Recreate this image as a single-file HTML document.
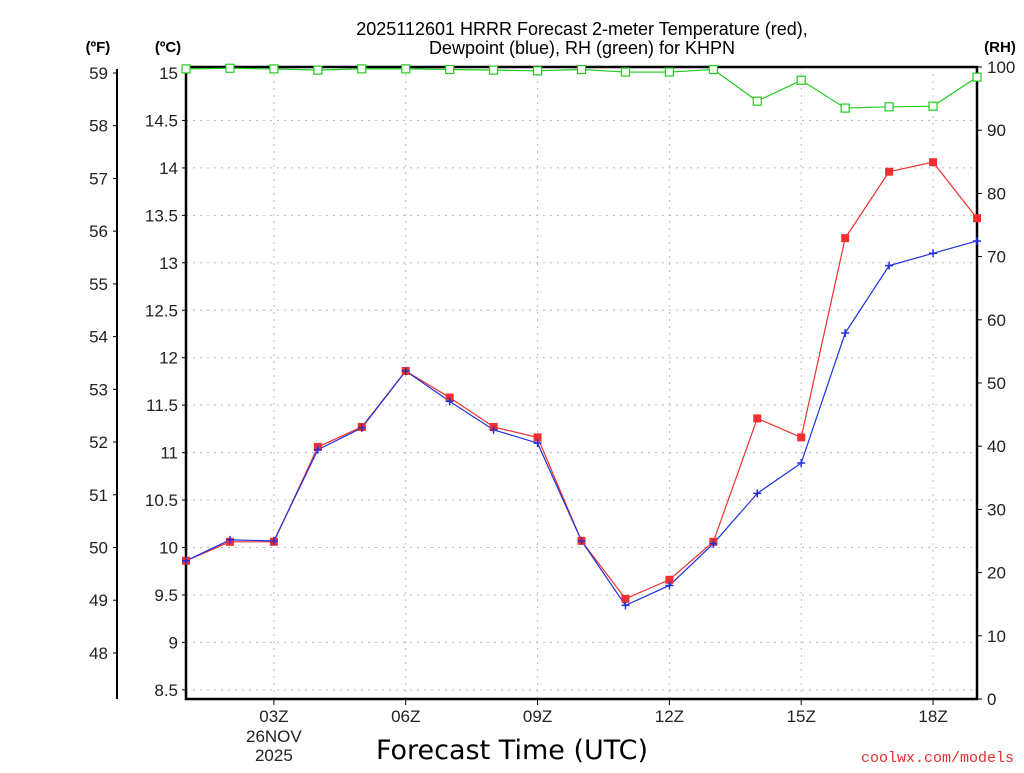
<!DOCTYPE html>
<html><head><meta charset="utf-8"><style>
body{margin:0;background:#fff;width:1024px;height:768px;overflow:hidden}
svg text{font-family:"Liberation Sans","DejaVu Sans",sans-serif}
</style></head><body>
<svg id="chart" width="1024" height="768" viewBox="0 0 1024 768" xmlns="http://www.w3.org/2000/svg">
<text x="582" y="35" font-size="18" text-anchor="middle" fill="#000">2025112601 HRRR Forecast 2-meter Temperature (red),</text>
<text x="582" y="54" font-size="18" text-anchor="middle" fill="#000">Dewpoint (blue), RH (green) for KHPN</text>
<text x="98" y="52" font-size="15" font-weight="bold" text-anchor="middle">(ºF)</text>
<text x="168" y="52" font-size="15" font-weight="bold" text-anchor="middle">(ºC)</text>
<text x="1000" y="52" font-size="15" font-weight="bold" text-anchor="middle">(RH)</text>
<text x="512" y="759" font-size="27" text-anchor="middle" fill="#000" style="font-family:'DejaVu Sans',sans-serif">Forecast Time (UTC)</text>
<text x="1014" y="762" font-size="15" text-anchor="end" fill="#e83030" style="font-family:'Liberation Mono',monospace">coolwx.com/models</text>
<g id="grid"></g><g id="axes"></g><g id="series"></g>
</svg>
<script>
const hours=[1,2,3,4,5,6,7,8,9,10,11,12,13,14,15,16,17,18,19];
const tempC=[9.86,10.06,10.06,11.06,11.27,11.86,11.58,11.27,11.16,10.07,9.46,9.66,10.06,11.36,11.16,13.26,13.96,14.06,13.47];
const dewC=[9.86,10.08,10.07,11.03,11.26,11.86,11.54,11.24,11.10,10.07,9.39,9.60,10.04,10.57,10.89,12.26,12.97,13.10,13.23];
const rh=[99.7,99.8,99.7,99.5,99.7,99.7,99.6,99.5,99.4,99.6,99.2,99.2,99.6,94.6,97.9,93.5,93.7,93.8,98.4];
const cTicks=[15,14.5,14,13.5,13,12.5,12,11.5,11,10.5,10,9.5,9,8.5];
const fTicks=[59,58,57,56,55,54,53,52,51,50,49,48];
const rhTicks=[0,10,20,30,40,50,60,70,80,90,100];
const xTickHours=[3,6,9,12,15,18];
const xTickLabels=["03Z","06Z","09Z","12Z","15Z","18Z"];
const L=186,R=977,T=67,B=699;
const x=h=>L+(h-1)*(R-L)/18;
const yC=c=>73+(15-c)*94.9;
const yF=f=>yC((f-32)*5/9);
const yRH=v=>B-v*(B-T)/100;
const NS="http://www.w3.org/2000/svg";
function mk(tag,attrs,parent,txt){const e=document.createElementNS(NS,tag);for(const k in attrs)e.setAttribute(k,attrs[k]);if(txt!==undefined)e.textContent=txt;document.getElementById(parent).appendChild(e);return e;}
cTicks.forEach(c=>{const y=yC(c);
 if(c<15){const g=mk('line',{x1:L,x2:R,y1:y,y2:y,stroke:'#bbb','stroke-dasharray':'2,5'},'grid');
 
 }
 mk('line',{x1:L-4,x2:L,y1:y,y2:y,stroke:'#000'},'axes');
 const t=mk('text',{x:L-8,y:y+6,'font-size':17,'text-anchor':'end',fill:'#222'},'axes',String(c));
 
 });
fTicks.forEach(f=>{const y=yF(f);
 mk('line',{x1:113,x2:117,y1:y,y2:y,stroke:'#000'},'axes');
 const t=mk('text',{x:108,y:y+6,'font-size':17,'text-anchor':'end',fill:'#222'},'axes',String(f));
 
 });
rhTicks.forEach(v=>{const y=yRH(v);
 mk('line',{x1:R,x2:R+5,y1:y,y2:y,stroke:'#000'},'axes');
 const t=mk('text',{x:R+10,y:y+6,'font-size':17,fill:'#222'},'axes',String(v));
 
 });
xTickHours.forEach((h,i)=>{const xx=x(h);
 const g=mk('line',{x1:xx,x2:xx,y1:T,y2:B,stroke:'#bbb','stroke-dasharray':'2,5'},'grid');
 
 
 mk('line',{x1:xx,x2:xx,y1:B,y2:B+6,stroke:'#000'},'axes');
 const t=mk('text',{x:xx,y:722,'font-size':17,'text-anchor':'middle',fill:'#222'},'axes',xTickLabels[i]);
 
 });
const d1=mk('text',{x:x(3),y:742,'font-size':17,'text-anchor':'middle',fill:'#222'},'axes','26NOV');


const d2=mk('text',{x:x(3),y:761,'font-size':17,'text-anchor':'middle',fill:'#222'},'axes','2025');


const fa=mk('line',{x1:117,x2:117,y1:yF(59)-4,y2:B,stroke:'#000','stroke-width':2},'axes');


const fr=mk('rect',{x:L,y:T,width:R-L,height:B-T,fill:'none',stroke:'#000','stroke-width':2.5},'axes');


function line(vals,fy,color,name){
 const p=mk('polyline',{points:vals.map((v,i)=>x(hours[i])+','+fy(v)).join(' '),fill:'none',stroke:color,'stroke-width':1.2},'series');
 
 }
line(rh,yRH,'#22cc22','rh');
line(tempC,yC,'#f03030','temp');
line(dewC,yC,'#2030e0','dewpoint');
rh.forEach((v,i)=>{const m=mk('rect',{x:x(hours[i])-4,y:yRH(v)-4,width:8,height:8,fill:'#fff',stroke:'#22cc22','stroke-width':1.2},'series');
 
 });
tempC.forEach((v,i)=>{const m=mk('rect',{x:x(hours[i])-4,y:yC(v)-4,width:8,height:8,fill:'#f03030'},'series');
 
 });
dewC.forEach((v,i)=>{const xx=x(hours[i]),yy=yC(v);
 const m=mk('path',{d:`M${xx-4},${yy}H${xx+4}M${xx},${yy-4}V${yy+4}`,stroke:'#2030e0','stroke-width':1.5},'series');
 
 });
</script>
</body></html>
